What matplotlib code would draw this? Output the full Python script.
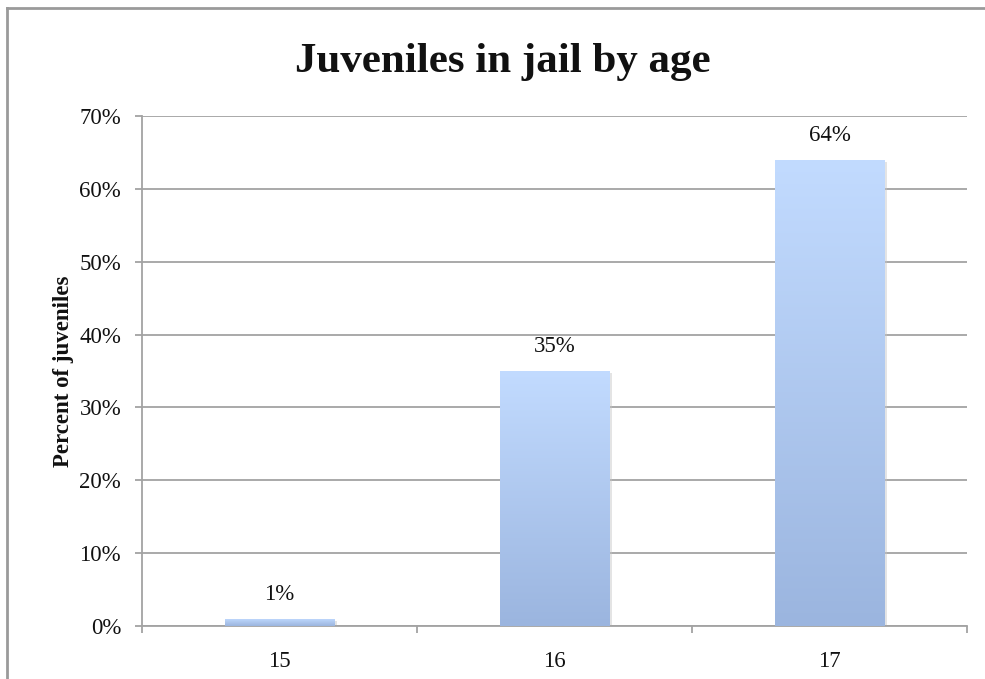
import numpy as np
import matplotlib
matplotlib.use("Agg")
import matplotlib.pyplot as plt
from matplotlib.lines import Line2D
from matplotlib.ticker import FuncFormatter, FixedLocator
import matplotlib.patheffects as pe

ages = ["15", "16", "17"]
percents = [1, 35, 64]
y_ticks = [0, 10, 20, 30, 40, 50, 60, 70]

plt.rcParams["font.family"] = ["Liberation Serif", "DejaVu Serif"]

fig = plt.figure(figsize=(9.85, 6.79), dpi=100)
ax = fig.add_axes([142 / 985, 1 - 626 / 679, (967 - 142) / 985, (626 - 116) / 679])

grid_col = "#a3a3a3"
text_col = "#111111"
x = np.arange(len(ages))
bars = ax.bar(x, percents, width=0.4, color="#9bb5df", zorder=2,
              path_effects=[pe.SimplePatchShadow(offset=(1.5, -1.5), shadow_rgbFace="#c4c4c4", alpha=0.45),
                            pe.Normal()])

# vertical gradient fill inside each bar: light at the top, darker at the base
grad = np.linspace(0, 1, 256).reshape(-1, 1)
top = np.array([0xc2, 0xdb, 0xff]) / 255
bot = np.array([0x9b, 0xb5, 0xdf]) / 255
img = (top[None, None, :] * (1 - grad[..., None]) + bot[None, None, :] * grad[..., None])
for b in bars:
    x0, y0 = b.get_x(), b.get_y()
    w, h = b.get_width(), b.get_height()
    im = ax.imshow(img, extent=[x0, x0 + w, y0, y0 + h], aspect="auto", zorder=3,
                   interpolation="bilinear", origin="upper")
    im.set_clip_path(b)

for xi, v in zip(x, percents):
    ax.annotate(f"{v}%", (xi, v), xytext=(0, 10), textcoords="offset points",
                ha="center", va="bottom", fontsize=16.5, color=text_col)

ax.set_xlim(-0.5, len(ages) - 0.5)
ax.set_ylim(0, 70)
ax.yaxis.set_major_locator(FixedLocator(y_ticks))
ax.yaxis.set_major_formatter(FuncFormatter(lambda v, p: f"{v:.0f}%"))
ax.set_xticks(x)
ax.set_xticklabels(ages)
ax.set_xticks(np.arange(len(ages) + 1) - 0.5, minor=True)

ax.grid(axis="y", color=grid_col, linewidth=1.3, zorder=1)
ax.set_axisbelow(True)
for s in ["top", "right"]:
    ax.spines[s].set_visible(False)
for s in ["left", "bottom"]:
    ax.spines[s].set_color(grid_col)
    ax.spines[s].set_linewidth(1.3)

ax.tick_params(axis="y", which="major", length=5, width=1.3, color=grid_col,
               labelsize=16.5, pad=10, labelcolor=text_col)
ax.tick_params(axis="x", which="major", length=0, labelsize=16.5, pad=18, labelcolor=text_col)
ax.tick_params(axis="x", which="minor", length=5, width=1.3, color=grid_col)

ax.set_ylabel("Percent of juveniles", fontsize=16.5, fontweight="bold", labelpad=4,
              color=text_col)
fig.text(503 / 985, 1 - 62 / 679, "Juveniles in jail by age", ha="center", va="center",
         fontsize=31, fontweight="bold", color=text_col)

# chart frame (top and left edges)
frame_col = "#9a9a9a"
fig.add_artist(Line2D([7 / 985, 1], [1 - 8 / 679, 1 - 8 / 679], transform=fig.transFigure,
                      color=frame_col, linewidth=2))
fig.add_artist(Line2D([7 / 985, 7 / 985], [0, 1 - 8 / 679], transform=fig.transFigure,
                      color=frame_col, linewidth=2))

fig.savefig("out.png", dpi=100)
